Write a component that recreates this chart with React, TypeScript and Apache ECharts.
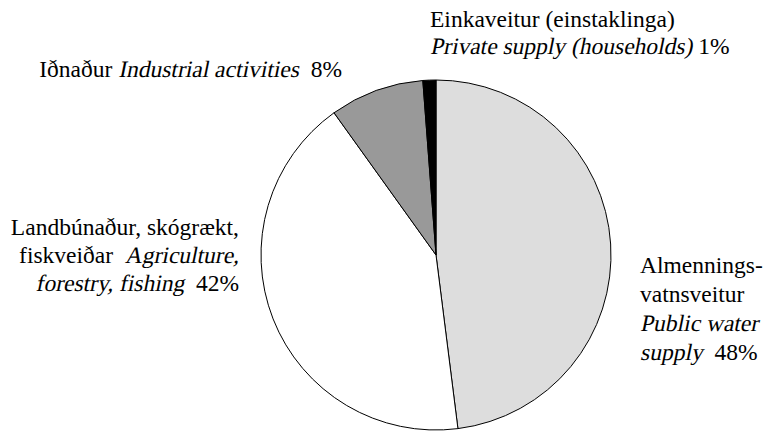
import React, { useEffect, useRef } from "react";
import * as echarts from "echarts";

const categoriesIs = [
  "Almennings-vatnsveitur",
  "Landbúnaður, skógrækt, fiskveiðar",
  "Iðnaður",
  "Einkaveitur (einstaklinga)",
];
const categoriesEn = [
  "Public water supply",
  "Agriculture, forestry, fishing",
  "Industrial activities",
  "Private supply (households)",
];
const values = [48.0, 42.1, 8.7, 1.2];
const percentLabels = ["48%", "42%", "8%", "1%"];

const colors = ["#dddddd", "#ffffff", "#999999", "#000000"];

// label line breaks: [text, italic] segments per line
type Seg = [string, boolean];
const labelLines: Seg[][][] = [
  [
    [["Almennings-", false]],
    [["vatnsveitur", false]],
    [["Public water", true]],
    [["supply", true], ["  " + percentLabels[0], false]],
  ],
  [
    [["Landbúnaður, skógrækt,", false]],
    [["fiskveiðar  ", false], ["Agriculture,", true]],
    [["forestry, fishing", true], ["  " + percentLabels[1], false]],
  ],
  [[["Iðnaður ", false], ["Industrial activities", true], ["  " + percentLabels[2], false]]],
  [
    [["Einkaveitur (einstaklinga)", false]],
    [["Private supply (households)", true], [" " + percentLabels[3], false]],
  ],
];
const labelPos = [
  { x: 640, y: 265, align: "left", lh: 29 },
  { x: 239, y: 227, align: "right", lh: 28 },
  { x: 342, y: 69, align: "right", lh: 28 },
  { x: 430, y: 19, align: "left", lh: 27 },
];

const FS = 23.5;
// the serif italic face is not installed, so italics are drawn as slanted upright serif
const FONT = FS + "px \"Liberation Serif\", \"Times New Roman\", serif";
const SLANT = -0.2;

export default function App() {
  const ref = useRef<HTMLDivElement>(null);
  useEffect(() => {
    document.body.style.margin = "0";
    const chart = echarts.init(ref.current!, null, { renderer: "svg" });
    const ctx = document.createElement("canvas").getContext("2d")!;
    ctx.font = FONT;
    const measure = (t: string) => ctx.measureText(t).width;
    const texts: any[] = [];
    labelLines.forEach((lines, i) => {
      const pos = labelPos[i];
      lines.forEach((segs, li) => {
        const total = segs.reduce((s, [t]) => s + measure(t), 0);
        let x = pos.align === "right" ? pos.x - total : pos.x;
        segs.forEach(([t, it]) => {
          texts.push({
            type: "text",
            x,
            y: pos.y + li * pos.lh,
            silent: true,
            skewX: it ? SLANT : 0,
            originX: 0,
            originY: 8,
            style: {
              text: t,
              font: FONT,
              fill: "#000",
              align: "left",
              verticalAlign: "middle",
            },
          });
          x += measure(t);
        });
      });
    });
    chart.setOption({
      animation: false,
      backgroundColor: "#ffffff",
      series: [
        {
          type: "pie",
          center: [436, 255],
          radius: 175,
          startAngle: 90,
          clockwise: true,
          itemStyle: { borderColor: "#000000", borderWidth: 1 },
          label: { show: false },
          labelLine: { show: false },
          emphasis: { disabled: true },
          data: values.map((v, i) => ({
            value: v,
            name: categoriesIs[i] + " " + categoriesEn[i],
            itemStyle: { color: colors[i] },
          })),
        },
      ],
      graphic: texts,
    });
    return () => chart.dispose();
  }, []);
  return <div ref={ref} style={{ width: 763, height: 431 }} />;
}
